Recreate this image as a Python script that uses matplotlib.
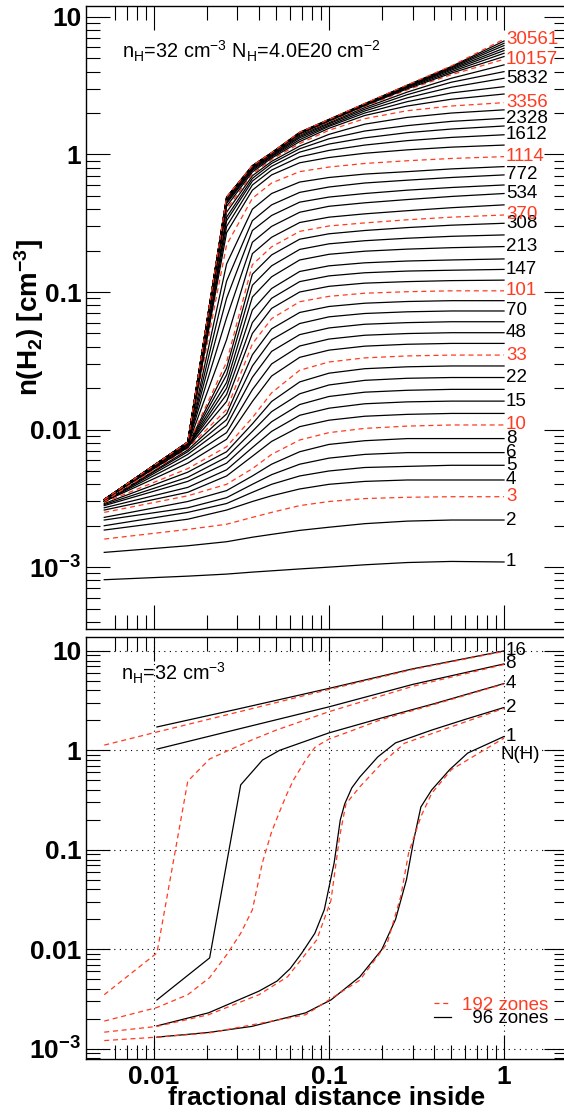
import matplotlib
matplotlib.use("Agg")
import matplotlib.pyplot as plt
from matplotlib.ticker import FixedLocator, FixedFormatter, NullFormatter, LogLocator
from matplotlib.lines import Line2D

plt.rcParams['font.family'] = ['Liberation Sans', 'DejaVu Sans']
plt.rcParams['mathtext.fontset'] = 'custom'
plt.rcParams['mathtext.rm'] = 'Liberation Sans'
plt.rcParams['mathtext.it'] = 'Liberation Sans:italic'
plt.rcParams['mathtext.bf'] = 'Liberation Sans:bold'
plt.rcParams['mathtext.default'] = 'regular'

RED = '#ff3b22'

# ---- top panel: n(H2) vs depth, one curve per iteration (96 zones)
x_top = [0.0052, 0.0156, 0.026, 0.0365, 0.047, 0.068, 0.1, 0.16, 0.28, 0.5, 1.0]

top_labels = ['1', '2', '3', '4', '5', '6', '8', '10', '', '15', '', '22', '', '33',
              '', '48', '', '70', '', '101', '', '147', '', '213', '', '308', '370',
              '', '534', '', '772', '', '1114', '', '1612', '', '2328', '', '3356',
              '', '', '5832', '', '', '10157', '', '', '', '', '', '', '', '30561']
top_red = ['3', '10', '33', '101', '370', '1114', '3356', '10157', '30561']

top_n = [
    [0.00081, 0.00086, 0.00089, 0.00092, 0.00094, 0.00097, 0.001, 0.00104, 0.00108, 0.0011, 0.00109],
    [0.00128, 0.00143, 0.00153, 0.00165, 0.00173, 0.00185, 0.00195, 0.00207, 0.00216, 0.0022, 0.0022],
    [0.0016, 0.00188, 0.00205, 0.0023, 0.0025, 0.0028, 0.003, 0.00315, 0.00322, 0.00325, 0.00325],
    [0.00186, 0.00223, 0.0026, 0.003, 0.0033, 0.0037, 0.004, 0.0042, 0.0043, 0.0043, 0.0043],
    [0.002, 0.0025, 0.0029, 0.0035, 0.004, 0.0046, 0.005, 0.0053, 0.0054, 0.0055, 0.0055],
    [0.0022, 0.0027, 0.0032, 0.004, 0.0047, 0.0056, 0.0062, 0.0066, 0.0068, 0.0068, 0.0068],
    [0.0023, 0.003, 0.0036, 0.0046, 0.0056, 0.0069, 0.0078, 0.0083, 0.0086, 0.0086, 0.0086],
    [0.0025, 0.0033, 0.004, 0.0052, 0.0066, 0.0084, 0.0095, 0.0102, 0.0106, 0.0108, 0.0108],
    [0.0026, 0.0035, 0.0046, 0.0064, 0.0082, 0.0105, 0.0117, 0.0125, 0.0129, 0.0131, 0.0131],
    [0.0027, 0.0038, 0.0051, 0.0074, 0.0097, 0.0127, 0.0143, 0.0154, 0.0159, 0.0161, 0.0161],
    [0.0028, 0.0042, 0.0057, 0.0085, 0.0114, 0.0152, 0.0174, 0.0187, 0.0193, 0.0196, 0.0196],
    [0.00285, 0.0045, 0.0063, 0.0097, 0.0135, 0.0182, 0.0211, 0.0228, 0.0236, 0.0239, 0.0239],
    [0.0029, 0.0049, 0.0069, 0.011, 0.016, 0.0222, 0.0257, 0.0277, 0.0286, 0.029, 0.029],
    [0.00295, 0.0052, 0.0075, 0.0122, 0.0185, 0.027, 0.031, 0.0332, 0.0343, 0.0348, 0.0348],
    [0.003, 0.0057, 0.0085, 0.016, 0.0245, 0.0335, 0.0378, 0.0404, 0.0417, 0.0423, 0.0423],
    [0.003, 0.0062, 0.0095, 0.0195, 0.03, 0.0405, 0.0455, 0.0485, 0.0499, 0.0506, 0.0506],
    [0.003, 0.0066, 0.0107, 0.024, 0.037, 0.049, 0.0548, 0.0583, 0.0599, 0.0608, 0.0608],
    [0.003, 0.0069, 0.0118, 0.029, 0.045, 0.059, 0.066, 0.0698, 0.0718, 0.0728, 0.0728],
    [0.003, 0.0071, 0.013, 0.035, 0.054, 0.071, 0.0785, 0.0829, 0.0853, 0.0865, 0.0865],
    [0.003, 0.0073, 0.014, 0.042, 0.064, 0.085, 0.093, 0.098, 0.1005, 0.102, 0.102],
    [0.0031, 0.0074, 0.016, 0.05, 0.076, 0.1, 0.11, 0.116, 0.119, 0.121, 0.122],
    [0.0031, 0.0075, 0.018, 0.06, 0.09, 0.119, 0.131, 0.138, 0.142, 0.144, 0.146],
    [0.0031, 0.0075, 0.02, 0.074, 0.106, 0.141, 0.155, 0.163, 0.168, 0.171, 0.174],
    [0.0031, 0.0076, 0.022, 0.092, 0.129, 0.171, 0.188, 0.198, 0.205, 0.21, 0.214],
    [0.0031, 0.0076, 0.025, 0.112, 0.155, 0.204, 0.224, 0.236, 0.246, 0.254, 0.26],
    [0.0031, 0.0077, 0.028, 0.135, 0.186, 0.242, 0.265, 0.28, 0.294, 0.306, 0.316],
    [0.0031, 0.0077, 0.031, 0.158, 0.213, 0.276, 0.302, 0.318, 0.335, 0.35, 0.363],
    [0.0031, 0.0077, 0.045, 0.19, 0.25, 0.32, 0.35, 0.37, 0.39, 0.41, 0.43],
    [0.0031, 0.0078, 0.065, 0.23, 0.3, 0.38, 0.42, 0.445, 0.47, 0.495, 0.52],
    [0.0031, 0.0078, 0.09, 0.28, 0.36, 0.45, 0.49, 0.52, 0.55, 0.575, 0.6],
    [0.0031, 0.0078, 0.12, 0.33, 0.43, 0.53, 0.58, 0.62, 0.65, 0.68, 0.71],
    [0.0031, 0.0079, 0.16, 0.4, 0.52, 0.63, 0.68, 0.72, 0.75, 0.785, 0.816],
    [0.0031, 0.0079, 0.22, 0.48, 0.62, 0.75, 0.81, 0.86, 0.9, 0.935, 0.964],
    [0.0031, 0.0079, 0.27, 0.55, 0.71, 0.87, 0.95, 1.02, 1.08, 1.13, 1.17],
    [0.0031, 0.0079, 0.3, 0.6, 0.77, 0.96, 1.07, 1.17, 1.26, 1.33, 1.39],
    [0.0031, 0.008, 0.33, 0.64, 0.82, 1.04, 1.19, 1.32, 1.44, 1.53, 1.61],
    [0.0031, 0.008, 0.35, 0.67, 0.86, 1.1, 1.3, 1.48, 1.62, 1.74, 1.83],
    [0.0031, 0.008, 0.38, 0.7, 0.89, 1.15, 1.4, 1.66, 1.86, 2.0, 2.11],
    [0.0031, 0.008, 0.4, 0.72, 0.92, 1.2, 1.5, 1.82, 2.08, 2.25, 2.38],
    [0.0031, 0.008, 0.42, 0.745, 0.94, 1.24, 1.55, 1.92, 2.25, 2.52, 2.75],
    [0.0031, 0.008, 0.44, 0.765, 0.96, 1.28, 1.6, 2.0, 2.42, 2.8, 3.11],
    [0.0031, 0.008, 0.45, 0.78, 0.975, 1.32, 1.63, 2.07, 2.58, 3.08, 3.58],
    [0.0031, 0.0081, 0.46, 0.795, 0.99, 1.35, 1.67, 2.13, 2.72, 3.35, 4.0],
    [0.0031, 0.0081, 0.47, 0.805, 1.0, 1.38, 1.7, 2.19, 2.84, 3.58, 4.48],
    [0.0031, 0.0081, 0.475, 0.813, 1.01, 1.4, 1.73, 2.23, 2.95, 3.8, 4.92],
    [0.0031, 0.0081, 0.478, 0.817, 1.015, 1.41, 1.75, 2.26, 3.0, 3.9, 5.15],
    [0.0031, 0.0081, 0.48, 0.82, 1.02, 1.42, 1.76, 2.28, 3.05, 4.0, 5.44],
    [0.0031, 0.0081, 0.482, 0.822, 1.022, 1.43, 1.77, 2.3, 3.09, 4.1, 5.69],
    [0.0031, 0.0081, 0.484, 0.824, 1.024, 1.435, 1.78, 2.31, 3.12, 4.18, 5.92],
    [0.0031, 0.0081, 0.486, 0.826, 1.026, 1.44, 1.79, 2.32, 3.15, 4.25, 6.19],
    [0.0031, 0.0081, 0.488, 0.828, 1.028, 1.445, 1.79, 2.33, 3.17, 4.31, 6.43],
    [0.0031, 0.0081, 0.49, 0.83, 1.03, 1.45, 1.8, 2.34, 3.19, 4.36, 6.68],
    [0.0031, 0.0081, 0.49, 0.83, 1.03, 1.45, 1.8, 2.35, 3.2, 4.4, 6.89],
]

# ---- bottom panel: resolution test, N(H) = 1,2,4,8,16
res_labels = ['1', '2', '4', '8', '16']

x96 = [
    [0.0104, 0.0205, 0.0362, 0.0736, 0.1026, 0.15, 0.2, 0.24, 0.277, 0.305, 0.335, 0.386, 0.489, 0.62, 1.0],
    [0.0104, 0.0205, 0.0398, 0.0505, 0.06, 0.07, 0.083, 0.094, 0.107, 0.116, 0.123, 0.135, 0.15,
     0.19, 0.24, 0.386, 0.6, 1.0],
    [0.0104, 0.0208, 0.0313, 0.0417, 0.0521, 0.0625, 0.1, 0.2, 0.4, 1.0],
    [0.0104, 0.03, 0.1, 0.3, 1.0],
    [0.0104, 0.03, 0.1, 0.3, 1.0],
]
n96 = [
    [0.00131, 0.00146, 0.00168, 0.0023, 0.0031, 0.0053, 0.0099, 0.02, 0.05, 0.126, 0.27, 0.4, 0.64, 0.94, 1.38],
    [0.0017, 0.0023, 0.0038, 0.0048, 0.0064, 0.0092, 0.0145, 0.025, 0.074, 0.2, 0.29, 0.42, 0.54,
     0.86, 1.19, 1.6, 2.05, 2.7],
    [0.0031, 0.0082, 0.45, 0.8, 1.0, 1.12, 1.5, 2.12, 2.95, 4.7],
    [1.03, 1.63, 2.74, 4.6, 7.4],
    [1.72, 2.6, 4.2, 6.6, 10.0],
]

x192 = [
    [0.0052, 0.0104, 0.0205, 0.0736, 0.15, 0.215, 0.257, 0.285, 0.335, 0.386, 0.5, 1.0],
    [0.0052, 0.0104, 0.0205, 0.0398, 0.058, 0.085, 0.1026, 0.115, 0.125, 0.15, 0.2, 0.27, 1.0],
    [0.0052, 0.0104, 0.0156, 0.0208, 0.026, 0.0313, 0.0365, 0.0417, 0.0469, 0.0521, 0.0573,
     0.0625, 0.0729, 0.0833, 0.1, 0.125, 0.2, 0.4, 1.0],
    [0.0052, 0.0104, 0.0156, 0.0208, 0.026, 0.0365, 0.05, 0.1, 0.3, 1.0],
    [0.0052, 0.0104, 0.03, 0.1, 0.3, 1.0],
]
n192 = [
    [0.00121, 0.00131, 0.00144, 0.0022, 0.0049, 0.0115, 0.034, 0.093, 0.216, 0.37, 0.64, 1.33],
    [0.00147, 0.00168, 0.0022, 0.0035, 0.0053, 0.0124, 0.031, 0.136, 0.29, 0.43, 0.74, 1.18, 2.65],
    [0.0019, 0.0026, 0.0035, 0.0052, 0.0088, 0.0145, 0.025, 0.075, 0.15, 0.24, 0.36,
     0.5, 0.78, 1.08, 1.3, 1.5, 2.05, 2.9, 4.65],
    [0.0035, 0.0092, 0.49, 0.82, 0.98, 1.28, 1.6, 2.45, 4.4, 7.3],
    [1.13, 1.53, 2.42, 4.1, 6.5, 9.9],
]

W, H = 564, 1117
fig = plt.figure(figsize=(W / 100, H / 100), dpi=100)
# right spine sits just outside the picture, as in the original crop
ax1 = fig.add_axes([86 / W, 1 - 629 / H, 482 / W, 623 / H])
ax2 = fig.add_axes([86 / W, 1 - 1059 / H, 482 / W, 422 / H])

xminor = [0.006, 0.007, 0.008, 0.009, 0.02, 0.03, 0.04, 0.05, 0.06, 0.07, 0.08, 0.09,
          0.2, 0.3, 0.4, 0.5, 0.6, 0.7, 0.8, 0.9]
yticks = [1e-3, 1e-2, 0.1, 1, 10]
ytlabels = [r'$\mathbf{10^{-3}}$', '0.01', '0.1', '1', '10']

for ax in (ax1, ax2):
    ax.set_xscale('log')
    ax.set_yscale('log')
    ax.set_xlim(0.00409, 2.32)
    ax.xaxis.set_major_locator(FixedLocator([0.01, 0.1, 1]))
    ax.xaxis.set_minor_locator(FixedLocator(xminor))
    ax.xaxis.set_minor_formatter(NullFormatter())
    ax.yaxis.set_major_locator(FixedLocator(yticks))
    ax.yaxis.set_major_formatter(FixedFormatter(ytlabels))
    ax.yaxis.set_minor_locator(LogLocator(base=10, subs=range(2, 10)))
    ax.yaxis.set_minor_formatter(NullFormatter())
    ax.tick_params(which='both', direction='in', top=True, right=True, width=0.8, colors='black')
    ax.tick_params(which='major', length=17, labelsize=19)
    ax.tick_params(which='minor', length=10)
    ax.tick_params(axis='y', pad=3.5)
    ax.tick_params(axis='x', pad=4)
    for s in ax.spines.values():
        s.set_linewidth(1.0)

ax1.set_ylim(3.55e-4, 12.0)
ax2.set_ylim(7.9e-4, 13.8)
ax1.xaxis.set_major_formatter(NullFormatter())
ax2.xaxis.set_major_formatter(FixedFormatter(['0.01', '0.1', '1']))

for ax in (ax1, ax2):
    for lbl in ax.get_xticklabels() + ax.get_yticklabels():
        lbl.set_fontweight('bold')

# top panel curves
for lab, yv in zip(top_labels, top_n):
    red = lab in top_red
    ax1.plot(x_top, yv, color=RED if red else 'black',
             ls=(0, (4, 3)) if red else '-', lw=0.9)
    if lab:
        ax1.text(1.025, yv[-1], lab, color=RED if red else 'black', fontsize=13.5,
                 ha='left', va='center', clip_on=False)

ax1.text(0.075, 0.915, r'n$_H$=32 cm$^{-3}$ N$_H$=4.0E20 cm$^{-2}$',
         transform=ax1.transAxes, fontsize=14.3, va='baseline')
ax1.set_ylabel(r'$\mathbf{n(H_2)\ [cm^{-3}]}$', fontsize=20)
ax1.yaxis.set_label_coords(-0.082, 0.5)

# bottom panel
ax2.grid(True, which='major', color='black', ls=(0, (1, 4)), lw=0.8)
for xs, ys in zip(x96, n96):
    ax2.plot(xs, ys, color='black', lw=0.9)
for xs, ys in zip(x192, n192):
    ax2.plot(xs, ys, color=RED, ls=(0, (4, 3)), lw=0.9)
for lab, ys in zip(res_labels, n96):
    ax2.text(1.02, ys[-1], lab, fontsize=13.5, ha='left', va='center', clip_on=False)
ax2.text(0.95, 0.9, 'N(H)', fontsize=13.5, ha='left', va='center')

ax2.text(0.072, 0.898, r'n$_H$=32 cm$^{-3}$', transform=ax2.transAxes,
         fontsize=14.3, va='baseline')

h_red = Line2D([], [], color=RED, ls=(0, (4, 3)), lw=0.9)
h_blk = Line2D([], [], color='black', lw=0.9)
leg = ax2.legend([h_red, h_blk], ['192 zones', '\u200796 zones'], loc='lower right',
                 bbox_to_anchor=(0.96, 0.075), frameon=False, fontsize=13.5,
                 handlelength=0.9, handletextpad=0.6, labelspacing=-0.2,
                 borderpad=0, borderaxespad=0)
for t, c in zip(leg.get_texts(), [RED, 'black']):
    t.set_color(c)

ax2.set_xlabel('fractional distance inside', fontsize=19, fontweight='bold')
ax2.xaxis.set_label_coords(0.5, -0.064)

fig.savefig('out.png', dpi=100)
